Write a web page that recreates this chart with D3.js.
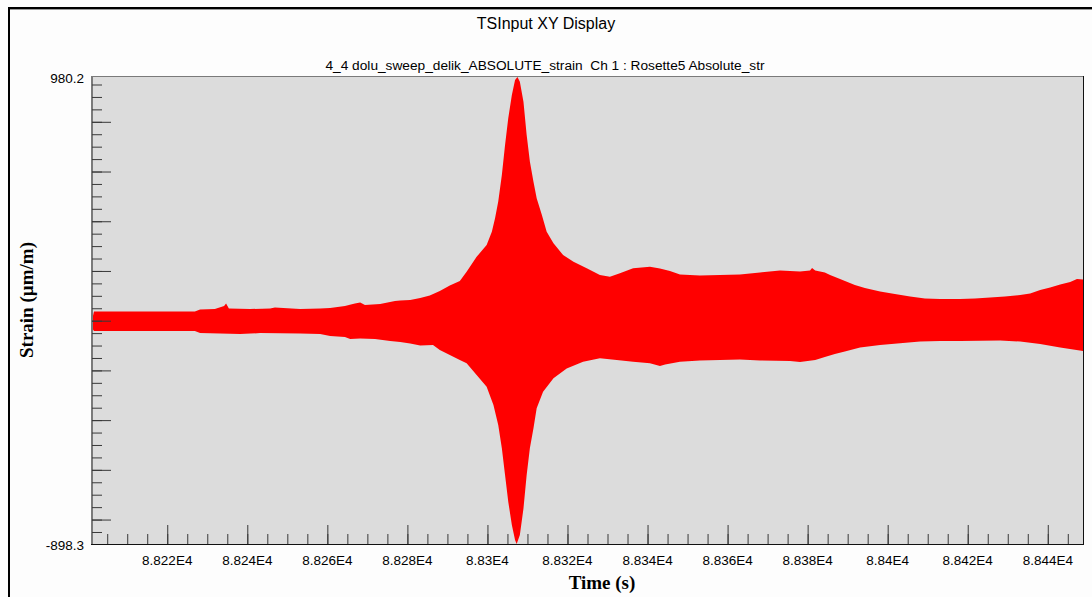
<!DOCTYPE html>
<html>
<head>
<meta charset="utf-8">
<script src="https://cdn.jsdelivr.net/npm/d3@7"></script>
<style>
  body { margin: 0; background: #fdfdfd; }
  svg { display: block; }
  .sans { font-family: "Liberation Sans", Arial, sans-serif; fill: #000; }
  .serif { font-family: "Liberation Serif", "Times New Roman", serif; font-weight: bold; fill: #000; }
</style>
</head>
<body>
<div id="chart"></div>
<script>
// Upper envelope of the strain signal (time in s, strain in µm/m)
const upperT = [88201.2, 88201.7, 88210.7, 88218.2, 88226.9, 88228.2, 88231.9, 88234.2, 88234.7, 88235.4,
  88240.7, 88245.7, 88246.9, 88253.2, 88258.2, 88260.7, 88264.4, 88266.9, 88268.2, 88269.4,
  88273.2, 88276.9, 88278.2, 88280.7, 88283.2, 88285.6, 88288.1, 88290.6, 88293.1, 88294.8,
  88297.3, 88299.8, 88301.1, 88301.9, 88302.7, 88303.6, 88304.4, 88305.2, 88306.1, 88306.9,
  88307.5, 88308.1, 88309.0, 88309.8, 88310.6, 88311.5, 88312.3, 88313.6, 88314.8, 88316.5,
  88318.9, 88321.5, 88324.8, 88328.1, 88330.6, 88333.1, 88336.4, 88340.6, 88343.1, 88345.6,
  88348.1, 88353.1, 88358.1, 88363.1, 88368.1, 88373.1, 88378.1, 88380.6, 88381.1, 88381.9,
  88384.3, 88385.6, 88388.1, 88391.8, 88394.3, 88398.1, 88401.8, 88405.6, 88409.3, 88413.1,
  88418.1, 88421.8, 88425.6, 88429.3, 88433.1, 88435.6, 88438.1, 88440.6, 88443.1, 88445.6,
  88447.3, 88448.8];
const upperV = [3, 37, 37, 37, 37, 45, 47, 59, 69, 49,
  47, 49, 53, 47, 49, 51, 59, 69, 73, 63,
  67, 79, 81, 83, 91, 101, 119, 142, 160, 197,
  257, 304, 358, 412, 479, 586, 707, 814, 908, 968,
  980.2, 961, 881, 747, 640, 559, 492, 425, 358, 311,
  264, 237, 211, 184, 177, 191, 211, 217, 210, 200,
  186, 182, 184, 186, 194, 202, 198, 202, 212, 202,
  194, 184, 168, 144, 131, 117, 107, 97, 89, 87,
  87, 89, 93, 97, 103, 109, 123, 133, 146, 156,
  168, 166];

// Lower envelope
const lowerT = [88201.2, 88201.7, 88226.9, 88228.2, 88238.2, 88243.2, 88253.2, 88258.2, 88260.7, 88264.4,
  88265.7, 88268.2, 88271.9, 88275.7, 88278.2, 88280.7, 88283.2, 88286.4, 88288.1, 88290.6,
  88293.1, 88294.8, 88297.3, 88299.8, 88301.5, 88302.7, 88303.6, 88304.4, 88305.2, 88306.1,
  88306.9, 88307.3, 88308.1, 88309.0, 88309.8, 88310.6, 88311.5, 88312.3, 88313.9, 88316.5,
  88319.8, 88323.9, 88328.1, 88332.3, 88336.4, 88340.6, 88343.1, 88344.4, 88348.1, 88353.1,
  88358.1, 88363.1, 88368.1, 88375.6, 88378.1, 88381.9, 88384.3, 88386.8, 88389.3, 88393.1,
  88398.1, 88403.1, 88408.1, 88413.1, 88418.1, 88423.1, 88428.1, 88433.1, 88438.1, 88443.1,
  88448.8];
const lowerV = [-29, -42, -42, -50, -54, -50, -52, -54, -62, -66,
  -74, -72, -74, -82, -86, -92, -100, -98, -118, -138,
  -158, -171, -219, -266, -339, -420, -513, -621, -728, -822,
  -882, -898.3, -862, -755, -621, -513, -433, -352, -286, -232,
  -192, -165, -151, -158, -165, -171, -182, -176, -165, -160,
  -158, -156, -160, -162, -166, -158, -146, -134, -124, -108,
  -98, -91, -84, -82, -82, -81, -80, -84, -94, -108,
  -122];

const xDomain = [88201.2, 88448.8];
const yDomain = [-898.3, 980.2];
const yEndLabels = ["980.2", "-898.3"];
const xMajorTicks = [88220, 88240, 88260, 88280, 88300, 88320, 88340, 88360, 88380, 88400, 88420, 88440];
const xTickLabels = ["8.822E4", "8.824E4", "8.826E4", "8.828E4", "8.83E4", "8.832E4",
  "8.834E4", "8.836E4", "8.838E4", "8.84E4", "8.842E4", "8.844E4"];

const W = 1092, H = 597;
const plot = {left: 92, top: 77, right: 1083, bottom: 544};

const svg = d3.select("#chart").append("svg")
  .attr("width", W)
  .attr("height", H);

// window frame
svg.append("path")
  .attr("d", `M9,${H + 5}V8H${W + 5}`)
  .attr("fill", "none")
  .attr("stroke", "#000")
  .attr("stroke-width", 2);
svg.append("line")
  .attr("x1", 10).attr("x2", W).attr("y1", 9.5).attr("y2", 9.5)
  .attr("stroke", "#9a9a9a");

// titles
svg.append("text")
  .attr("class", "sans")
  .attr("x", 546).attr("y", 29)
  .attr("text-anchor", "middle")
  .style("font-size", "16px")
  .text("TSInput XY Display");

svg.append("text")
  .attr("class", "sans")
  .attr("x", 545).attr("y", 70)
  .attr("text-anchor", "middle")
  .style("font-size", "13.7px")
  .style("white-space", "pre")
  .text("4_4 dolu_sweep_delik_ABSOLUTE_strain  Ch 1 : Rosette5 Absolute_str");

const x = d3.scaleLinear().domain(xDomain).range([plot.left, plot.right]);
const y = d3.scaleLinear().domain(yDomain).range([plot.bottom, plot.top]);

// plot background
svg.append("rect")
  .attr("x", plot.left).attr("y", plot.top)
  .attr("width", plot.right - plot.left)
  .attr("height", plot.bottom - plot.top)
  .attr("fill", "#dcdcdc");

// signal envelope: upper edge forward, lower edge back
const upperPts = upperT.map((t, i) => [t, upperV[i]]);
const lowerPts = lowerT.map((t, i) => [t, lowerV[i]]).reverse();
const edge = d3.line()
  .x(d => x(d[0]))
  .y(d => y(d[1]));

svg.append("path")
  .attr("d", edge(upperPts) + "L" + edge(lowerPts).slice(1) + "Z")
  .attr("fill", "#ff0000");

// plot border (sunken look)
svg.append("line")
  .attr("x1", plot.left).attr("x2", plot.right).attr("y1", plot.top - 0.5).attr("y2", plot.top - 0.5)
  .attr("stroke", "#7a7a7a");
svg.append("line")
  .attr("x1", plot.left).attr("x2", plot.left).attr("y1", plot.top - 1).attr("y2", plot.bottom)
  .attr("stroke", "#7a7a7a").attr("stroke-width", 2);
svg.append("line")
  .attr("x1", plot.right + 0.5).attr("x2", plot.right + 0.5).attr("y1", plot.top - 1).attr("y2", plot.bottom + 1)
  .attr("stroke", "#111");
svg.append("line")
  .attr("x1", plot.left - 1).attr("x2", plot.right + 1).attr("y1", plot.bottom + 0.5).attr("y2", plot.bottom + 0.5)
  .attr("stroke", "#111");

// ticks
function styleTicks(g) {
  g.select(".domain").remove();
  g.selectAll(".tick line").attr("stroke", "#383838");
  g.selectAll(".tick text").remove();
}

const yMinor = d3.range(-850, 951, 50);
const yMajor = d3.range(-800, 801, 200);
svg.append("g")
  .attr("transform", `translate(${plot.left},0)`)
  .call(d3.axisRight(y).tickValues(yMinor).tickSize(10).tickFormat(""))
  .call(styleTicks);
svg.append("g")
  .attr("transform", `translate(${plot.left},0)`)
  .call(d3.axisRight(y).tickValues(yMajor).tickSize(19).tickFormat(""))
  .call(styleTicks);

const xMinor = d3.range(88205, 88446, 5);
svg.append("g")
  .attr("transform", `translate(0,${plot.bottom})`)
  .call(d3.axisTop(x).tickValues(xMinor).tickSize(10).tickFormat(""))
  .call(styleTicks);
svg.append("g")
  .attr("transform", `translate(0,${plot.bottom})`)
  .call(d3.axisTop(x).tickValues(xMajorTicks).tickSize(19).tickFormat(""))
  .call(styleTicks);

// tick labels
svg.selectAll(".xlab")
  .data(xMajorTicks)
  .enter().append("text")
  .attr("class", "sans xlab")
  .attr("x", d => x(d))
  .attr("y", 560)
  .attr("dy", "0.35em")
  .attr("text-anchor", "middle")
  .style("font-size", "13.5px")
  .text((d, i) => xTickLabels[i]);

svg.selectAll(".ylab")
  .data(yDomain.slice().reverse())
  .enter().append("text")
  .attr("class", "sans ylab")
  .attr("x", 84)
  .attr("y", d => y(d) + 1)
  .attr("dy", "0.35em")
  .attr("text-anchor", "end")
  .style("font-size", "13.5px")
  .text((d, i) => yEndLabels[i]);

// axis titles
svg.append("text")
  .attr("class", "serif")
  .attr("transform", "translate(33,300) rotate(-90)")
  .attr("text-anchor", "middle")
  .style("font-size", "19px")
  .text("Strain (µm/m)");

svg.append("text")
  .attr("class", "serif")
  .attr("x", 602).attr("y", 589)
  .attr("text-anchor", "middle")
  .style("font-size", "19px")
  .text("Time (s)");
</script>
</body>
</html>
